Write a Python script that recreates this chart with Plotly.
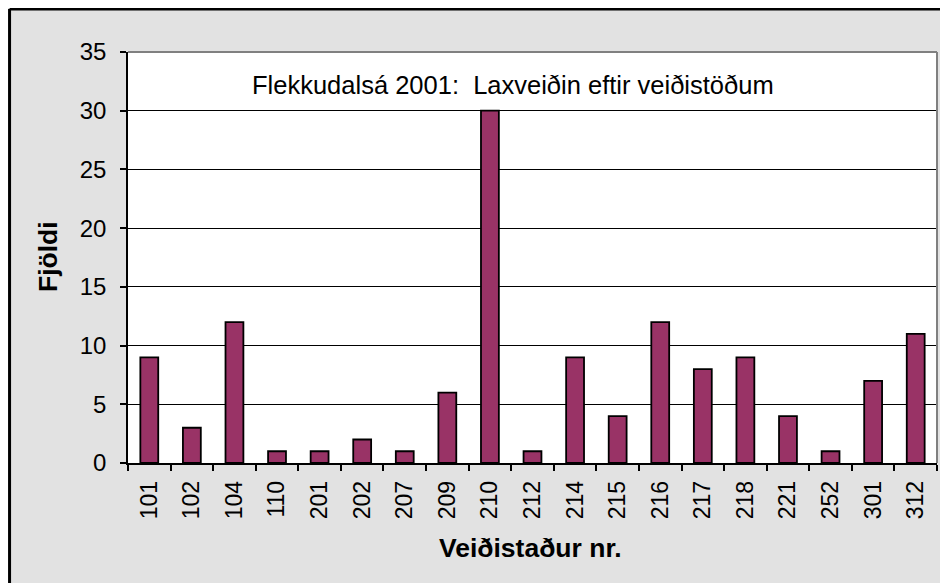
import plotly.graph_objects as go

categories = ["101", "102", "104", "110", "201", "202", "207", "209", "210", "212",
              "214", "215", "216", "217", "218", "221", "252", "301", "312"]
counts = [9, 3, 12, 1, 1, 2, 1, 6, 30, 1, 9, 4, 12, 8, 9, 4, 1, 7, 11]
y_ticks = [0, 5, 10, 15, 20, 25, 30, 35]

title_text = "Flekkudalsá 2001:  Laxveiðin eftir veiðistöðum"
x_title = "Veiðistaður nr."
y_title = "Fjöldi"

FONT = "Liberation Sans, Arial, sans-serif"

fig = go.Figure()
fig.add_trace(go.Bar(
    x=categories, y=counts,
    marker=dict(color="#993366", line=dict(color="black", width=1.8)),
    width=0.42,
))

fig.update_layout(
    width=940, height=575,
    margin=dict(l=120, r=11, t=44, b=120, autoexpand=False),
    paper_bgcolor="#e2e2e2",
    plot_bgcolor="white",
    showlegend=False,
    font=dict(family=FONT, size=24, color="black"),
    xaxis=dict(
        type="category",
        tickangle=-90,
        ticks="outside", ticklen=6, tickcolor="black", tickwidth=1.5,
        tickson="boundaries",
        showline=True, linecolor="black", linewidth=1.5,
        showgrid=False,
        tickfont=dict(size=23),
        ticklabelstandoff=7,
        automargin=False,
    ),
    yaxis=dict(
        range=[0, 35],
        tickvals=y_ticks,
        ticks="outside", ticklen=6, tickcolor="black", tickwidth=1.5,
        showline=True, linecolor="black", linewidth=1.5,
        showgrid=True, gridcolor="black", gridwidth=1,
        zeroline=False,
        tickfont=dict(size=24),
        ticklabelstandoff=9,
        automargin=False,
    ),
    annotations=[
        dict(text=title_text, xref="paper", yref="paper",
             x=0.4765, y=0.92, xanchor="center", yanchor="middle",
             showarrow=False, font=dict(size=25.5, color="black")),
        dict(text="<b>" + x_title + "</b>", xref="paper", yref="paper",
             x=0.498, y=-0.2068, xanchor="center", yanchor="middle",
             showarrow=False, font=dict(size=26.5, color="black")),
        dict(text="<b>" + y_title + "</b>", xref="paper", yref="paper",
             x=-0.0989, y=0.5036, xanchor="center", yanchor="middle",
             textangle=-90, showarrow=False, font=dict(size=26.5, color="black")),
    ],
    shapes=[
        dict(type="line", xref="paper", yref="paper", x0=0, x1=1, y0=1, y1=1,
             line=dict(color="#808080", width=2), layer="above"),
        dict(type="line", xref="paper", yref="paper", x0=1, x1=1, y0=0, y1=1,
             line=dict(color="#808080", width=2), layer="above"),
        dict(type="line", xref="paper", yref="paper", x0=-0.1464, x1=1.02, y0=1.1046, y1=1.1046,
             line=dict(color="black", width=3)),
        dict(type="line", xref="paper", yref="paper", x0=-0.1464, x1=-0.1464, y0=-0.3, y1=1.1046,
             line=dict(color="black", width=3)),
    ],
)

fig.write_html("out.html")
